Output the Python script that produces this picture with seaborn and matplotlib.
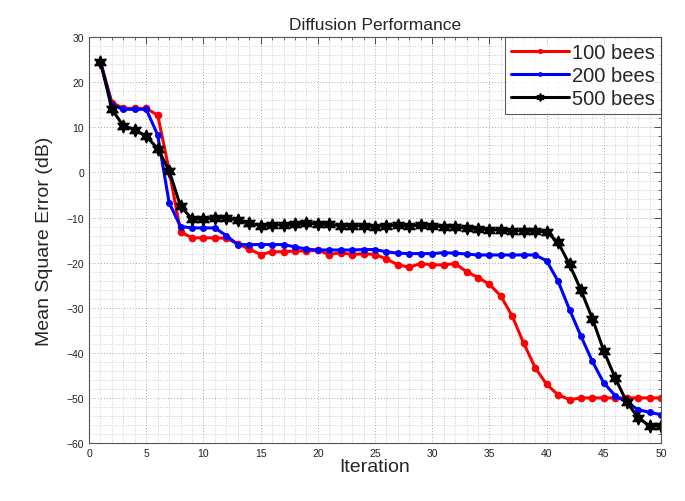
import numpy as np
import pandas as pd
import matplotlib
matplotlib.use("Agg")
import matplotlib.pyplot as plt
import seaborn as sns
from matplotlib.ticker import MultipleLocator

iterations = list(range(1, 51))

bees_100 = [24.5, 15.5, 14.2, 14.2, 14.2, 12.7, 0.5, -13.2, -14.5, -14.5,
            -14.5, -14.6, -15.8, -17.0, -18.2, -17.6, -17.6, -17.4, -17.4, -17.3,
            -18.2, -17.8, -18.2, -18.0, -18.2, -19.2, -20.5, -21.0, -20.2, -20.5,
            -20.5, -20.2, -22.0, -23.3, -24.8, -27.4, -31.9, -37.9, -43.3, -47.0,
            -49.3, -50.4, -50.0, -50.0, -50.0, -50.0, -50.0, -50.0, -50.0, -50.0]

bees_200 = [24.5, 15.0, 14.0, 14.0, 14.0, 8.3, -6.7, -12.0, -12.3, -12.3,
            -12.3, -14.0, -16.0, -16.0, -16.0, -16.0, -16.0, -16.5, -17.0, -17.2,
            -17.2, -17.2, -17.2, -17.1, -17.1, -17.6, -17.9, -18.0, -18.0, -18.0,
            -17.8, -17.9, -18.1, -18.3, -18.3, -18.3, -18.3, -18.3, -18.3, -19.6,
            -24.1, -30.4, -36.3, -41.9, -46.7, -49.5, -51.0, -52.6, -53.2, -53.7]

bees_500 = [24.5, 14.0, 10.3, 9.5, 8.0, 5.3, 0.4, -7.5, -10.3, -10.3,
            -10.2, -10.0, -10.6, -11.2, -11.8, -11.7, -11.6, -11.5, -11.3, -11.4,
            -11.5, -11.8, -11.8, -11.9, -12.0, -11.8, -11.7, -11.8, -11.7, -11.9,
            -12.0, -12.1, -12.3, -12.5, -12.7, -12.8, -12.9, -13.0, -13.0, -13.2,
            -15.5, -20.4, -26.1, -32.4, -39.6, -45.6, -50.9, -54.4, -56.2, -56.2]

series_names = ["100 bees", "200 bees", "500 bees"]
x_ticks = list(range(0, 51, 5))
y_ticks = list(range(-60, 31, 10))

sns.set_theme(style="white")
plt.rcParams["font.family"] = ["Liberation Sans", "DejaVu Sans"]

fig = plt.figure(figsize=(6.85, 5.02), dpi=100)
ax = fig.add_axes([0.130, 0.1155, 0.835, 0.8085])

styles = [
    dict(color="#ff0000", marker="o", markersize=4.5),
    dict(color="#0000ff", marker="o", markersize=4.0),
    dict(color="#000000", marker=(6, 1, 0), markersize=9.5),
]

for name, vals, st in zip(series_names, [bees_100, bees_200, bees_500], styles):
    df = pd.DataFrame({"Iteration": iterations, "MSE": vals})
    sns.lineplot(data=df, x="Iteration", y="MSE", ax=ax, label=name,
                 color=st["color"], marker=st["marker"], markersize=st["markersize"],
                 markeredgecolor=st["color"], markerfacecolor=st["color"],
                 linewidth=2.2, markeredgewidth=1)

ax.set_xlim(0, 50)
ax.set_ylim(-60, 30)
ax.set_xticks(x_ticks)
ax.set_yticks(y_ticks)
ax.xaxis.set_minor_locator(MultipleLocator(1))
ax.yaxis.set_minor_locator(MultipleLocator(2))
ax.grid(True, which="major", linestyle=(0, (1, 2.5)), color="#8a8a8a", linewidth=0.6)
ax.grid(True, which="minor", linestyle=(0, (1, 2.5)), color="#a8a8a8", linewidth=0.5)
ax.tick_params(which="both", direction="in", top=True, right=True, colors="#333333",
               labelsize=7.5, labelcolor="#222222")
ax.tick_params(which="major", length=5, width=0.6)
ax.tick_params(which="minor", length=2.5, width=0.5)
for sp in ax.spines.values():
    sp.set_color("#555555")
    sp.set_linewidth(0.8)

ax.set_xlabel("Iteration", fontsize=14, labelpad=0)
ax.set_ylabel("Mean Square Error (dB)", fontsize=14, labelpad=10)
ax.set_title("Diffusion Performance", fontsize=12.5, pad=6)

leg = ax.legend(loc="upper right", fontsize=14.5, frameon=True, fancybox=False,
                borderpad=0.3, labelspacing=0.2, handlelength=2.9, handletextpad=0.15,
                borderaxespad=0.0, markerscale=0.6)
leg.get_frame().set_edgecolor("#333333")
leg.get_frame().set_linewidth(0.8)

fig.savefig("out.png", dpi=100)
